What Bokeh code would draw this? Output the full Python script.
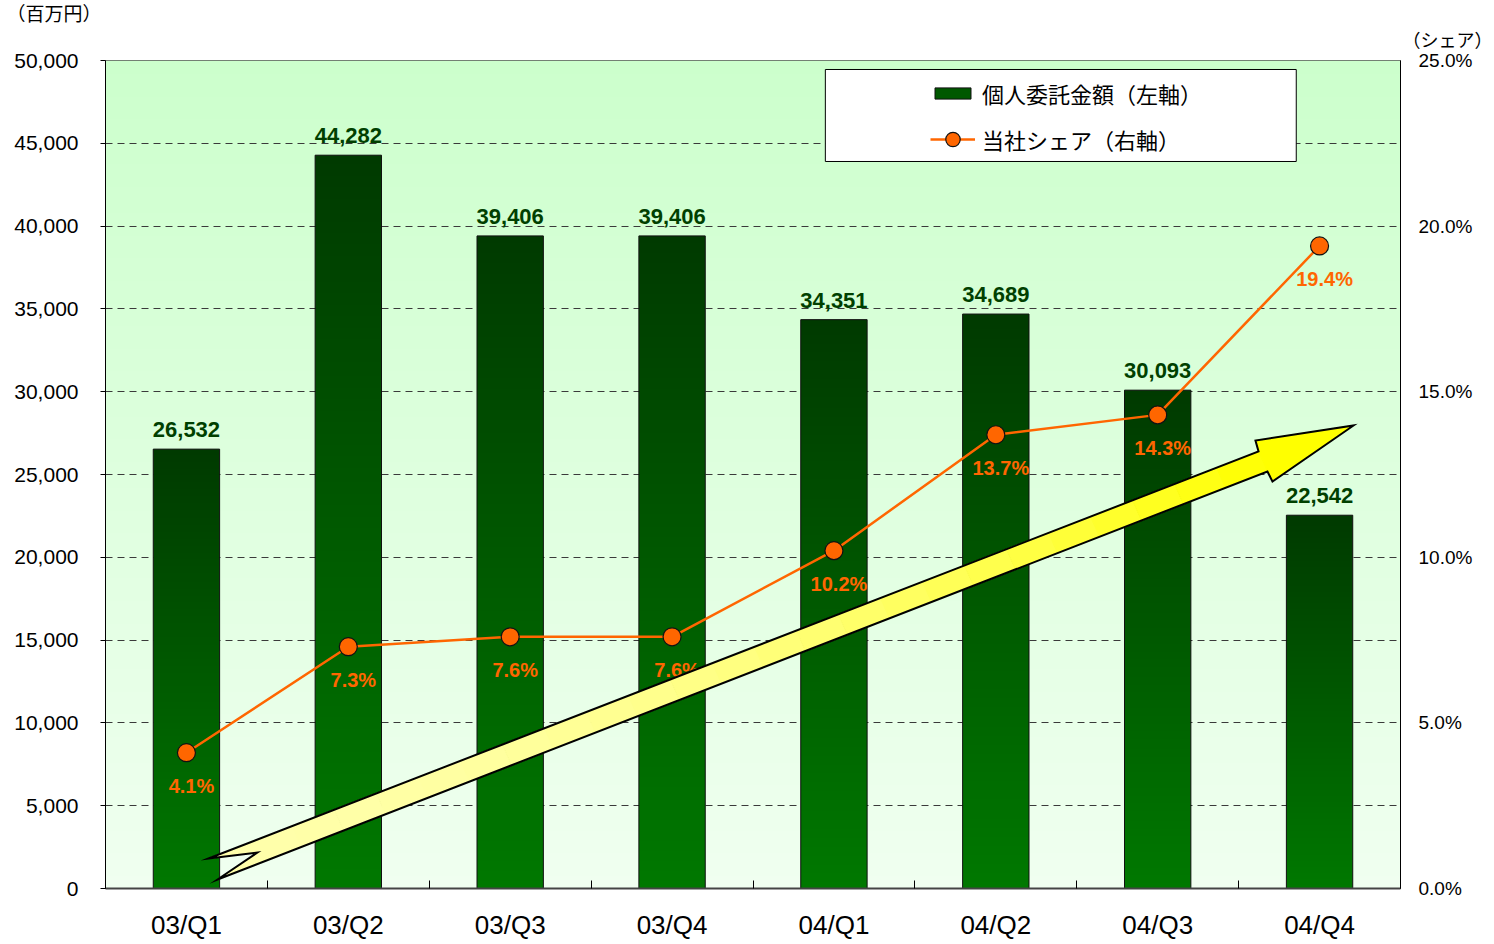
import numpy as np
from bokeh.plotting import figure
from bokeh.models import (Range1d, LinearAxis, FixedTicker, NumeralTickFormatter,
                          PrintfTickFormatter, Legend, LegendItem, BoxAnnotation, Title)
from bokeh.core.properties import value
from bokeh.embed import file_html
from bokeh.resources import INLINE

# ---------------- data ----------------
categories = ["03/Q1", "03/Q2", "03/Q3", "03/Q4", "04/Q1", "04/Q2", "04/Q3", "04/Q4"]
amounts = [26532, 44282, 39406, 39406, 34351, 34689, 30093, 22542]     # 百万円 (left axis)
shares = [4.1, 7.3, 7.6, 7.6, 10.2, 13.7, 14.3, 19.4]                 # % (right axis)
left_ticks = [0, 5000, 10000, 15000, 20000, 25000, 30000, 35000, 40000, 45000, 50000]
right_ticks = [0, 5, 10, 15, 20, 25]
amount_title = "（百万円）"
share_title = "（シェア）"
bar_name = "個人委託金額（左軸）"
line_name = "当社シェア（右軸）"

# ---------------- helpers ----------------
def vgrad(top, bottom, n=256):
    t = np.linspace(0.0, 1.0, n)[:, None]
    top = np.array(top, dtype=float)
    bottom = np.array(bottom, dtype=float)
    rgb = bottom * (1 - t) + top * t          # row 0 = bottom
    img = np.empty((n, 2), dtype=np.uint32)
    v = img.view(dtype=np.uint8).reshape((n, 2, 4))
    for c in range(3):
        v[:, :, c] = np.round(rgb[:, c])[:, None].astype(np.uint8)
    v[:, :, 3] = 255
    return img

xs = [i + 0.5 for i in range(len(categories))]
bar_w = 0.41
y_max = left_ticks[-1]
s_max = right_ticks[-1]

p = figure(width=1492, height=942, output_backend="svg", toolbar_location=None,
           x_range=Range1d(0, len(categories)), y_range=Range1d(0, y_max),
           min_border_left=105, min_border_right=92, min_border_top=60, min_border_bottom=53)
p.extra_y_ranges = {"share": Range1d(0, s_max)}
p.background_fill_color = "white"
p.border_fill_color = "white"
p.outline_line_color = "#555555"
p.outline_line_width = 1

# background gradient of plot area
p.image_rgba(image=[vgrad((204, 255, 204), (240, 255, 240))], x=0, y=0,
             dw=len(categories), dh=y_max, level="image")

# grid
p.xgrid.visible = False
p.ygrid.ticker = FixedTicker(ticks=left_ticks)
p.ygrid.grid_line_color = "#3a3a3a"
p.ygrid.grid_line_dash = "7 5"
p.ygrid.grid_line_width = 1

# bars (gradient + outline)
bar_img = vgrad((0, 58, 0), (0, 120, 0))
p.image_rgba(image=[bar_img] * len(amounts), x=[x - bar_w / 2 for x in xs], y=0,
             dw=bar_w, dh=amounts)
p.vbar(x=xs, top=amounts, width=bar_w, fill_alpha=0, line_color="#111111", line_width=1)
legend_bar = p.vbar(x=xs, top=amounts, width=bar_w, fill_color="#005800",
                    line_color="#111111", line_width=1, visible=False)

# share line
line_r = p.line(xs, shares, y_range_name="share", line_color="#ff6600", line_width=2.5)
dot_r = p.scatter(xs, shares, y_range_name="share", size=18, fill_color="#ff6600",
                  line_color="#111111", line_width=1.2)

# value labels
p.text(x=xs, y=amounts, text=[f"{v:,}" for v in amounts], text_align="center",
       text_baseline="bottom", y_offset=-12, text_color="#004000",
       text_font=value("Liberation Sans"), text_font_style="bold", text_font_size="22px")
p.text(x=xs, y=shares, y_range_name="share", text=[f"{v:.1f}%" for v in shares],
       text_align="center", text_baseline="middle", x_offset=5, y_offset=33,
       text_color="#ff6600", text_font=value("Liberation Sans"),
       text_font_style="bold", text_font_size="20px")

# big arrow (decoration), in data coordinates of the left axis
U0, U1 = (0.636, 1812), (7.123, 26389)      # upper shaft edge
L0, L1 = (0.692, 543), (7.178, 25181)       # lower shaft edge
notch = (0.939, 2174)
upper_barb, tip, lower_barb = (7.104, 27053), (7.710, 27959), (7.209, 24577)

def lerp(a, b, t):
    return (a[0] + (b[0] - a[0]) * t, a[1] + (b[1] - a[1]) * t)

def col(t):
    b = int(round(170 * (1 - t ** 2)))
    return "#%02x%02x%02x" % (255, 255, max(0, min(255, b)))

ts = list(np.linspace(0.08, 1.0, 24))
pxs, pys, cols = [], [], []
first = [U0, lerp(U0, U1, ts[0]), lerp(L0, L1, ts[0]), L0, notch]
pxs.append([q[0] for q in first]); pys.append([q[1] for q in first]); cols.append(col(0.04))
for a, b in zip(ts[:-1], ts[1:]):
    quad = [lerp(U0, U1, a), lerp(U0, U1, b), lerp(L0, L1, b), lerp(L0, L1, a)]
    pxs.append([q[0] for q in quad]); pys.append([q[1] for q in quad]); cols.append(col((a + b) / 2))
head = [U1, upper_barb, tip, lower_barb, L1]
pxs.append([q[0] for q in head]); pys.append([q[1] for q in head]); cols.append(col(1.0))
p.patches(pxs, pys, fill_color=cols, line_color=cols, line_width=1)
outline = [U0, U1, upper_barb, tip, lower_barb, L1, L0, notch]
p.patch([q[0] for q in outline], [q[1] for q in outline], fill_alpha=0,
        line_color="black", line_width=2, line_join="miter")

# axes
p.xaxis.ticker = FixedTicker(ticks=xs, minor_ticks=list(range(len(categories) + 1)))
p.xaxis.major_label_overrides = {x: c for x, c in zip(xs, categories)}
p.xaxis.major_tick_in = 0
p.xaxis.major_tick_out = 0
p.xaxis.minor_tick_in = 8
p.xaxis.minor_tick_out = 0
p.xaxis.minor_tick_line_color = "black"
p.xaxis.axis_line_color = "#444444"
p.xaxis.axis_line_width = 2
p.xaxis.major_label_standoff = 21
p.xaxis.major_label_text_font = "Liberation Sans"
p.xaxis.major_label_text_font_size = "26px"
p.xaxis.major_label_text_color = "black"

p.yaxis.ticker = FixedTicker(ticks=left_ticks)
p.yaxis.formatter = NumeralTickFormatter(format="0,0")
p.yaxis.minor_tick_line_color = None
p.yaxis.major_tick_out = 5
p.yaxis.major_tick_in = 0
p.yaxis.major_tick_line_color = "black"
p.yaxis.axis_line_color = "black"
p.yaxis.major_label_standoff = 22
p.yaxis.major_label_text_font = "Liberation Sans"
p.yaxis.major_label_text_font_size = "21px"
p.yaxis.major_label_text_color = "black"

raxis = LinearAxis(y_range_name="share", ticker=FixedTicker(ticks=right_ticks),
                   formatter=PrintfTickFormatter(format="%.1f%%"))
raxis.minor_tick_line_color = None
raxis.major_tick_out = 0
raxis.major_tick_in = 0
raxis.axis_line_color = "black"
raxis.major_label_standoff = 18
raxis.major_label_text_font = "Liberation Sans"
raxis.major_label_text_font_size = "19px"
raxis.major_label_text_color = "black"
p.add_layout(raxis, "right")

# axis titles (as plot titles in the top border); first added sits nearest the frame
t_share = Title(text=share_title, align="right", offset=-92, standoff=17,
                text_font="Noto Sans CJK JP", text_font_size="18px",
                text_font_style="normal", text_color="black", vertical_align="bottom")
t_amount = Title(text=amount_title, align="left", offset=-99, standoff=-21,
                 text_font="Noto Sans CJK JP", text_font_size="19px",
                 text_font_style="normal", text_color="black", vertical_align="bottom")
p.add_layout(t_share, "above")
p.add_layout(t_amount, "above")

# legend box + legends
p.add_layout(BoxAnnotation(left=4.447, right=7.356, top=49457, bottom=43901,
                           fill_color="white", fill_alpha=1, line_color="black",
                           line_width=1, line_alpha=1))
leg_common = dict(padding=0, margin=0, border_line_alpha=0, background_fill_alpha=0,
                  label_text_font="Noto Sans CJK JP", label_text_font_size="22px",
                  label_text_color="black", glyph_width=45, label_standoff=7)
leg1 = Legend(items=[LegendItem(label=bar_name, renderers=[legend_bar])],
              location=(825, 779), glyph_height=14, label_height=30, **leg_common)
leg2 = Legend(items=[LegendItem(label=line_name, renderers=[line_r, dot_r])],
              location=(825, 731), glyph_height=36, label_height=30, **leg_common)
p.add_layout(leg1)
p.add_layout(leg2)

open("out.html", "w").write(file_html(p, INLINE))
